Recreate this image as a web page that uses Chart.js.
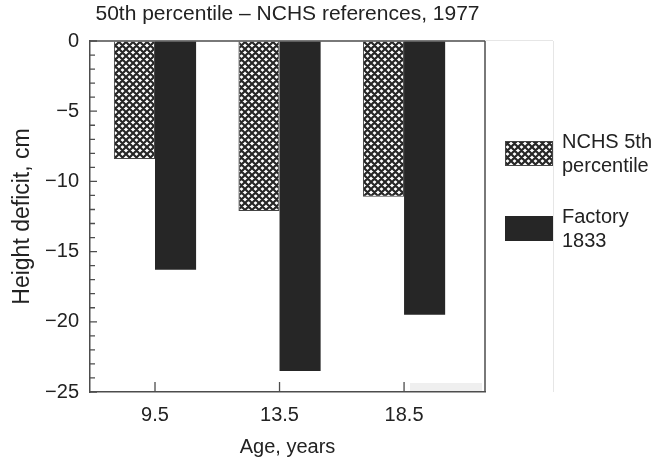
<!DOCTYPE html>
<html>
<head>
<meta charset="utf-8">
<script src="https://cdn.jsdelivr.net/npm/chart.js@4/dist/chart.umd.min.js"></script>
<style>
  html, body { margin: 0; padding: 0; background: #fff; }
  #wrap { width: 658px; height: 462px; }
</style>
</head>
<body>
<div id="wrap"><canvas id="deficit"></canvas></div>
<script>
// data
const ageLabels = ['9.5', '13.5', '18.5'];
const nchs5th = [-8.4, -12.1, -11.1];
const factory1833 = [-16.3, -23.5, -19.5];
const legendLines = [['NCHS 5th', 'percentile'], ['Factory', '1833']];
const yTicks = [0, -5, -10, -15, -20, -25];
const chartTitle = '50th percentile \u2013 NCHS references, 1977';

const FONT = '"Liberation Sans", Arial, Helvetica, sans-serif';
const INK = '#222';
const FRAME = '#4d4d4d';
const BLACK_BAR = '#262626';

// cross hatch fill
function makeHatch() {
  const s = 7;
  const c = document.createElement('canvas');
  c.width = s; c.height = s;
  const g = c.getContext('2d');
  g.fillStyle = '#fff';
  g.fillRect(0, 0, s, s);
  g.strokeStyle = '#262626';
  g.lineWidth = 2.2;
  g.beginPath();
  for (let k = -1; k <= 1; k++) {
    g.moveTo(k * s, 0); g.lineTo(k * s + s, s);
    g.moveTo(k * s + s, 0); g.lineTo(k * s, s);
  }
  g.stroke();
  return g.createPattern(c, 'repeat');
}
const hatch = makeHatch();

// title, frame, inward ticks and the legend on the right
const extras = {
  id: 'extras',
  beforeDatasetsDraw(chart) {
    // pale smudge along the bottom right of the plot in the scan
    const { ctx, chartArea: a } = chart;
    ctx.save();
    ctx.fillStyle = '#efefef';
    ctx.fillRect(a.right - 75, a.bottom - 9, 72, 8);
    ctx.restore();
  },
  afterDatasetsDraw(chart) {
    const { ctx, chartArea: a, scales } = chart;
    ctx.save();

    ctx.fillStyle = INK;
    ctx.font = '21px ' + FONT;
    ctx.textAlign = 'center';
    ctx.textBaseline = 'middle';
    ctx.fillText(chartTitle, (a.left + a.right) / 2, 14);

    // faint outer box line
    ctx.strokeStyle = '#e6e6e6';
    ctx.lineWidth = 1;
    ctx.beginPath();
    ctx.moveTo(a.right, a.top - 0.5); ctx.lineTo(553, a.top - 0.5);
    ctx.moveTo(553.5, a.top); ctx.lineTo(553.5, a.bottom);
    ctx.stroke();

    ctx.strokeStyle = FRAME;
    ctx.lineWidth = 1.5;
    ctx.beginPath();
    ctx.moveTo(a.left, a.top); ctx.lineTo(a.right, a.top);
    ctx.moveTo(a.right, a.top); ctx.lineTo(a.right, a.bottom);
    ctx.stroke();

    ctx.lineWidth = 1.3;
    ctx.beginPath();
    for (let v = 0; v >= -25; v--) {
      const py = scales.y.getPixelForValue(v);
      const len = v % 5 === 0 ? 7 : 5;
      ctx.moveTo(a.left, py); ctx.lineTo(a.left + len, py);
    }
    ageLabels.forEach((_, i) => {
      const px = scales.x.getPixelForValue(i);
      ctx.moveTo(px, a.bottom); ctx.lineTo(px, a.bottom - 10);
    });
    ctx.stroke();

    // legend
    const boxX = a.right + 20, boxW = 48, boxH = 25;
    const tops = [141, 216];
    chart.data.datasets.forEach((ds, i) => {
      const t = tops[i];
      ctx.fillStyle = ds.backgroundColor;
      ctx.fillRect(boxX, t, boxW, boxH);
      if (ds.borderWidth) {
        ctx.strokeStyle = ds.borderColor;
        ctx.lineWidth = 1;
        ctx.strokeRect(boxX + 0.5, t + 0.5, boxW - 1, boxH - 1);
      }
      ctx.fillStyle = INK;
      ctx.font = '20px ' + FONT;
      ctx.textBaseline = 'alphabetic';
      ctx.textAlign = 'left';
      legendLines[i].forEach((line, j) => {
        ctx.fillText(line, boxX + 57, t + 7 + j * 24);
      });
    });
    ctx.restore();
  }
};

new Chart(document.getElementById('deficit'), {
  type: 'bar',
  data: {
    datasets: [
      {
        label: legendLines[0].join(' '),
        data: ageLabels.map((_, i) => ({ x: i, y: nchs5th[i] })),
        backgroundColor: hatch,
        borderColor: '#444',
        borderWidth: 1,
        borderSkipped: 'start',
      },
      {
        label: legendLines[1].join(' '),
        data: ageLabels.map((_, i) => ({ x: i, y: factory1833[i] })),
        backgroundColor: BLACK_BAR,
        borderWidth: 0,
      },
    ],
  },
  plugins: [extras],
  options: {
    responsive: true,
    maintainAspectRatio: false,
    animation: false,
    layout: { padding: { top: 41, right: 173, bottom: 0, left: 0 } },
    datasets: {
      bar: { categoryPercentage: 0.66, barPercentage: 1.0, grouped: true },
    },
    scales: {
      x: {
        type: 'linear',
        offset: false,
        min: -0.522,
        max: 2.65,
        afterBuildTicks: (scale) => {
          scale.ticks = ageLabels.map((_, i) => ({ value: i }));
        },
        afterFit: (scale) => { scale.height = 70; },
        ticks: {
          autoSkip: false,
          padding: 11,
          color: INK,
          font: { family: FONT, size: 20 },
          callback: (v) => ageLabels[v],
        },
        grid: { drawOnChartArea: false, drawTicks: false },
        border: { display: true, color: FRAME, width: 1.5 },
        title: {
          display: true,
          text: 'Age, years',
          color: INK,
          font: { family: FONT, size: 20 },
          padding: { top: 4, bottom: 3 },
        },
      },
      y: {
        min: -25,
        max: 0,
        afterBuildTicks: (scale) => {
          scale.ticks = yTicks.map((v) => ({ value: v }));
        },
        afterFit: (scale) => { scale.width = 90; },
        ticks: {
          padding: 11,
          color: INK,
          font: { family: FONT, size: 20 },
          callback: (v) => (v === 0 ? '0' : '\u2212' + Math.abs(v)),
        },
        grid: { drawOnChartArea: false, drawTicks: false },
        border: { display: true, color: FRAME, width: 1.5 },
        title: {
          display: true,
          text: 'Height deficit, cm',
          color: INK,
          font: { family: FONT, size: 23 },
          padding: { top: 9, bottom: 0 },
        },
      },
    },
    plugins: {
      legend: { display: false },
      tooltip: { enabled: false },
      title: { display: false },
    },
  },
});
</script>
</body>
</html>
